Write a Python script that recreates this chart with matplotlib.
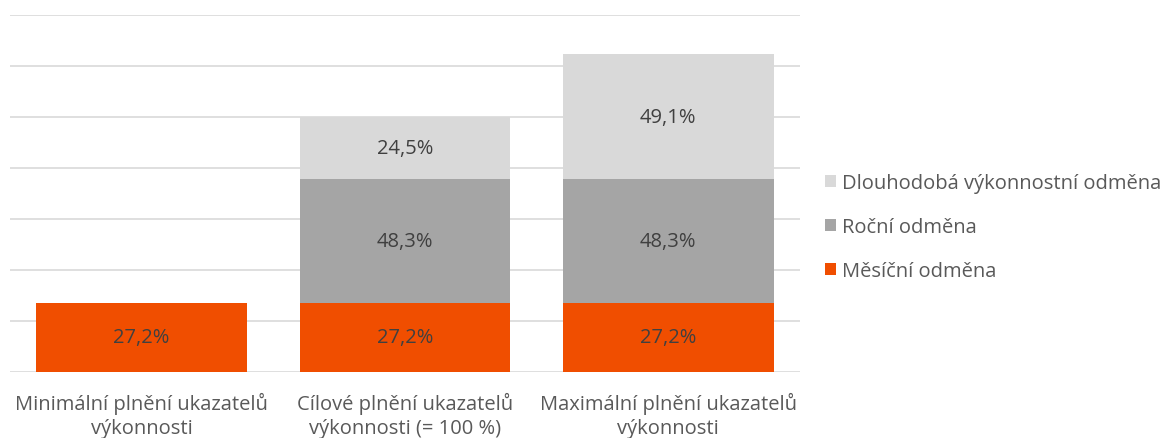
import matplotlib.pyplot as plt
import numpy as np

categories = ['Minimální plnění ukazatelů\nvýkonnosti',
              'Cílové plnění ukazatelů\nvýkonnosti (= 100 %)',
              'Maximální plnění ukazatelů\nvýkonnosti']
mesicni = [27.2, 27.2, 27.2]
rocni = [0, 48.3, 48.3]
dlouhodoba = [0, 24.5, 49.1]
series_names = ['Měsíční odměna', 'Roční odměna', 'Dlouhodobá výkonnostní odměna']
colors = ['#F04E00', '#A5A5A5', '#D9D9D9']

plt.rcParams['font.family'] = ['Open Sans', 'DejaVu Sans']

fig = plt.figure(figsize=(11.74, 4.39), dpi=100)
ax = fig.add_axes([0.0085, 0.1503, 0.6729, 0.8133])

x = np.arange(len(categories))
bottom = np.zeros(len(categories))
handles = []
for vals, name, col in zip([mesicni, rocni, dlouhodoba], series_names, colors):
    vals = np.array(vals)
    bars = ax.bar(x, vals, 0.8, bottom=bottom, color=col, label=name, zorder=2)
    handles.append(bars)
    for xi, v, b in zip(x, vals, bottom):
        if v > 0:
            ax.text(xi, b + v / 2, f'{v:.1f}%'.replace('.', ','), ha='center', va='center',
                    fontsize=14.5, color='#404040', zorder=3)
    bottom += vals

ax.set_xlim(-0.5, 2.5)
ax.set_ylim(0, 140)
ax.set_yticks(np.arange(0, 141, 20))
ax.yaxis.grid(True, color='#D9D9D9', linewidth=1.2, zorder=0)
ax.set_yticklabels([])
ax.tick_params(axis='y', length=0)
ax.set_xticks(x)
ax.set_xticklabels(categories, fontsize=14.5, color='#595959', linespacing=1.3)
ax.tick_params(axis='x', length=0, pad=14)
for s in ax.spines.values():
    s.set_visible(False)

leg = fig.legend(handles[::-1], series_names[::-1], loc='center left',
                 bbox_to_anchor=(0.703, 0.48), frameon=False, fontsize=14.5,
                 labelcolor='#595959', handlelength=0.55, handleheight=0.55,
                 handletextpad=0.3, labelspacing=1.2, borderpad=0, borderaxespad=0)

fig.savefig('out.png', dpi=100)
